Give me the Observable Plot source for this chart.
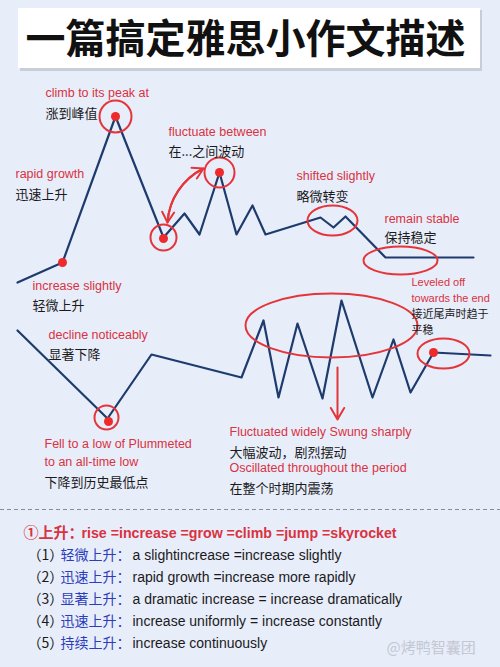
<!DOCTYPE html>
<html>
<head>
<meta charset="utf-8">
<script src="https://cdn.jsdelivr.net/npm/d3@7"></script>
<script src="https://cdn.jsdelivr.net/npm/@observablehq/plot@0.6"></script>
<style>
  html, body { margin: 0; padding: 0; background: #e8edfa; }
  #chart svg { display: block; }
</style>
</head>
<body>
<div id="chart"></div>
<script>
// ---------- data ----------
const titleText = "一篇搞定雅思小作文描述";

const line1X = [17, 62, 115, 163, 184, 199, 219, 236, 252, 265, 320, 333, 345, 385, 473];
const line1Y = [282, 262, 116, 237, 213, 234, 172, 234, 205, 234, 217, 227, 216, 257, 257];

const line2X = [17, 107, 151, 241, 263, 278, 297, 322, 341, 372, 393, 410, 433, 490];
const line2Y = [330, 418, 354, 377, 320, 397, 323, 398, 300, 397, 339, 392, 352, 355];

const dotX = [62, 115, 163, 219, 108, 433];
const dotY = [262, 116, 238, 172, 421, 352];

const ringX = [115, 163, 219, 106];
const ringY = [116, 237, 172, 417];
const ringR = [16, 13, 15, 12];

const ellX = [332, 400, 331, 443];
const ellY = [220, 260, 325, 353];
const ellRx = [25, 37, 86, 26];
const ellRy = [15, 14, 32, 15];

const enLabels = ["climb to its peak at", "fluctuate between", "rapid growth", "increase slightly",
  "shifted slightly", "remain stable", "decline noticeably", "Fell to a low of Plummeted",
  "to an all-time low", "Fluctuated widely Swung sharply", "Oscillated throughout the period"];
const enX = [45, 168, 15, 32, 296, 384, 48, 44, 44, 229, 229];
const enY = [92, 131, 173, 285, 175, 218, 334, 443, 461, 431, 467];

const zhLabels = ["涨到峰值", "在...之间波动", "迅速上升", "轻微上升", "略微转变", "保持稳定",
  "显著下降", "下降到历史最低点", "大幅波动，剧烈摆动", "在整个时期内震荡"];
const zhX = [45, 168, 15, 32, 296, 384, 48, 44, 229, 229];
const zhY = [113, 151, 194, 305, 196, 237, 354, 482, 452, 488];

const smallEn = ["Leveled off", "towards the end"];
const smallEnY = [282, 298];
const smallZh = ["接近尾声时趋于", "平稳"];
const smallZhY = [314, 330];

const headNum = "①上升：";
const headEn = "rise =increase =grow =climb =jump =skyrocket";
const listNums = ["（1）", "（2）", "（3）", "（4）", "（5）"];
const listZh = ["轻微上升：", "迅速上升：", "显著上升：", "迅速上升：", "持续上升："];
const listEn = ["a slightincrease =increase slightly", "rapid growth =increase more rapidly",
  "a dramatic increase = increase dramatically", "increase uniformly = increase constantly",
  "increase continuously"];
const listY = [555, 577, 599, 621, 643];
const watermark = "@烤鸭智囊团";

// ---------- build ----------
const FONT = "'Liberation Sans', 'Noto Sans CJK SC', sans-serif";
const ZH = "'Noto Sans CJK SC', 'Liberation Sans', sans-serif";
const RED = "#d93240";
const RING = "#e3353a";
const NAVY = "#1d3b6c";
const BLUE = "#2c3dba";

const pts = (xs, ys) => xs.map((x, i) => ({x, y: ys[i]}));
const line1 = pts(line1X, line1Y);
const line2 = pts(line2X, line2Y);
const dots = pts(dotX, dotY);
const rings = ringX.map((x, i) => ({x, y: ringY[i], r: ringR[i]}));

function ellipseSymbol(rx, ry) {
  const k = 0.5522847;
  return {
    draw(ctx) {
      ctx.moveTo(rx, 0);
      ctx.bezierCurveTo(rx, k * ry, k * rx, ry, 0, ry);
      ctx.bezierCurveTo(-k * rx, ry, -rx, k * ry, -rx, 0);
      ctx.bezierCurveTo(-rx, -k * ry, -k * rx, -ry, 0, -ry);
      ctx.bezierCurveTo(k * rx, -ry, rx, -k * ry, rx, 0);
      ctx.closePath();
    }
  };
}
const ellipseMarks = ellX.map((x, i) =>
  Plot.dot([{x, y: ellY[i]}], {x: "x", y: "y", r: 10, symbol: ellipseSymbol(ellRx[i], ellRy[i]),
    stroke: RING, strokeWidth: 2, fill: "none"}));

const textMark = (labels, xs, ys, opts) =>
  Plot.text(labels.map((t, i) => ({t, x: Array.isArray(xs) ? xs[i] : xs, y: ys[i]})),
    {x: "x", y: "y", text: "t", textAnchor: "start", fontFamily: FONT, ...opts});

const chart = Plot.plot({
  width: 500,
  height: 667,
  margin: 0,
  x: {domain: [0, 500], range: [0, 500], axis: null},
  y: {domain: [0, 667], range: [0, 667], axis: null},
  r: {type: "identity"},
  style: {background: "#e8edfa", overflow: "visible"},
  marks: [
    // title box
    Plot.rect([{}], {x1: 20, x2: 482, y1: 10, y2: 71, fill: "#c9cdd8"}),
    Plot.rect([{}], {x1: 18, x2: 480, y1: 8, y2: 68, fill: "white"}),
    Plot.text([titleText], {x: 245, y: 40, text: d => d, fontSize: 40, fontWeight: "bold",
      fontFamily: ZH, fill: "#111"}),
    // lines
    Plot.line(line1, {x: "x", y: "y", stroke: NAVY, strokeWidth: 2.2}),
    Plot.line(line2, {x: "x", y: "y", stroke: NAVY, strokeWidth: 2.2}),
    // rings and ellipses
    Plot.dot(rings, {x: "x", y: "y", r: "r", stroke: RING, strokeWidth: 2, fill: "none"}),
    ...ellipseMarks,
    Plot.dot(dots, {x: "x", y: "y", r: 4.5, fill: "#ee2a2a", stroke: "none"}),
    // arrows
    Plot.arrow([{}], {x1: 167, y1: 222, x2: 203, y2: 168, bend: 30, stroke: RING, strokeWidth: 2, headLength: 9}),
    Plot.arrow([{}], {x1: 203, y1: 168, x2: 167, y2: 222, bend: -30, stroke: RING, strokeWidth: 2, headLength: 9}),
    Plot.arrow([{}], {x1: 337, y1: 367, x2: 337, y2: 419, stroke: RING, strokeWidth: 2, headLength: 10}),
    // annotations
    textMark(enLabels, enX, enY, {fill: RED, fontSize: 12.5}),
    textMark(zhLabels, zhX, zhY, {fill: "#1a1a1a", fontSize: 13, fontFamily: ZH}),
    textMark(smallEn, 411, smallEnY, {fill: RED, fontSize: 11}),
    textMark(smallZh, 411, smallZhY, {fill: "#1a1a1a", fontSize: 11, fontFamily: ZH}),
    // separator
    Plot.ruleY([509], {stroke: "#8a8d96", strokeWidth: 1, strokeDasharray: "4,3"}),
    // list
    Plot.text([headNum], {x: 23, y: 533, text: d => d, textAnchor: "start", fill: RED, fontSize: 15,
      fontWeight: "bold", fontFamily: ZH}),
    Plot.text([headEn], {x: 81, y: 533, text: d => d, textAnchor: "start", fill: RED, fontSize: 14.2,
      fontWeight: "bold", fontFamily: FONT}),
    textMark(listNums, 27, listY, {fill: "#1a1a1a", fontSize: 14, fontFamily: ZH}),
    textMark(listZh, 60, listY, {fill: BLUE, fontSize: 14, fontFamily: ZH}),
    textMark(listEn, 132, listY, {fill: "#1a1a1a", fontSize: 14}),
    Plot.text([watermark], {x: 386, y: 648, text: d => d, textAnchor: "start", fill: "#c4c8d2",
      fontSize: 15, fontFamily: ZH})
  ]
});
document.getElementById("chart").append(chart);
</script>
</body>
</html>
